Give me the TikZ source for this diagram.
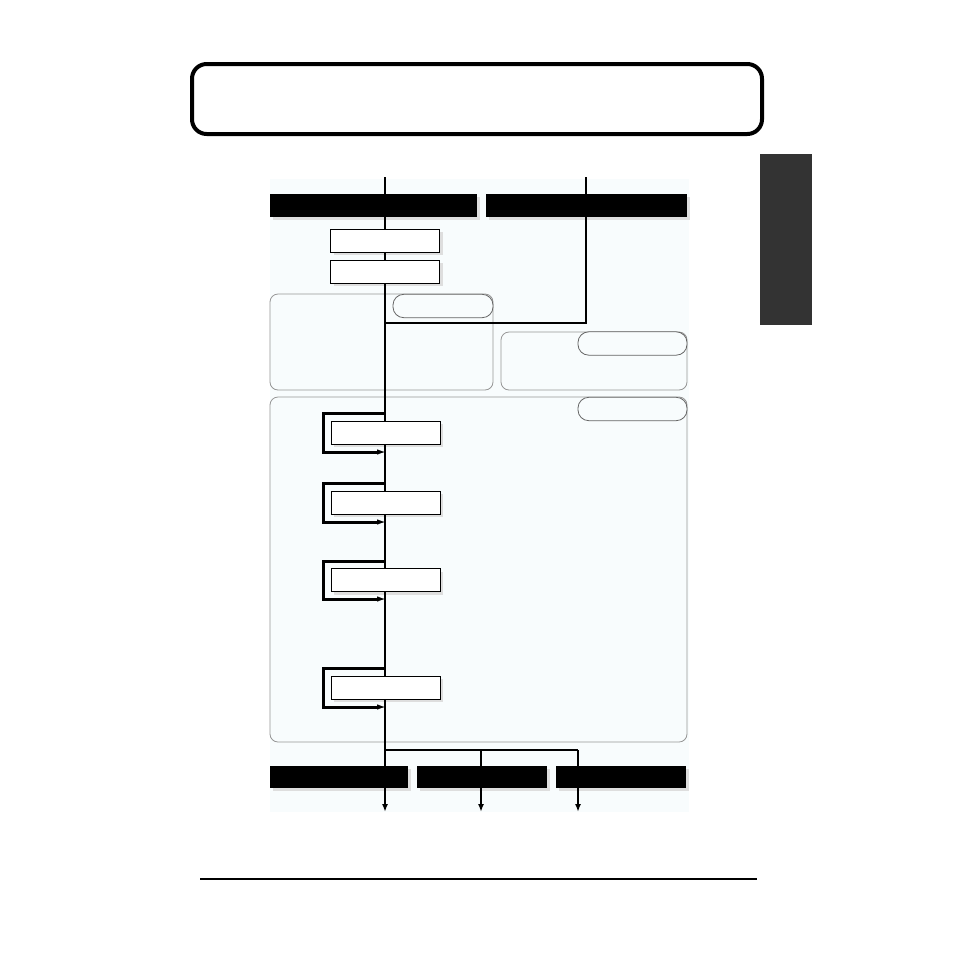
\documentclass[tikz,border=0pt]{standalone}
\usetikzlibrary{arrows.meta,shadows}
\definecolor{bgc}{RGB}{248,252,253}
\definecolor{shd}{RGB}{222,222,222}
\definecolor{grpc}{RGB}{150,150,150}
\definecolor{pillc}{RGB}{100,100,100}
\definecolor{tabc}{RGB}{51,51,51}
\begin{document}
\begin{tikzpicture}[x=0.75pt,y=-0.75pt,
  blackbox/.style={fill=black,draw=none,inner sep=0pt,minimum height=17.25pt,
    drop shadow={shadow xshift=2.25pt,shadow yshift=-2.25pt,fill=shd,opacity=1}},
  whitebox/.style={fill=white,draw=black,line width=0.75pt,inner sep=0pt,
    minimum width=81.75pt,minimum height=17.25pt,
    drop shadow={shadow xshift=2.25pt,shadow yshift=-2.25pt,fill=shd,opacity=1}},
  grpbox/.style={draw=grpc,line width=0.6pt,rounded corners=6pt,inner sep=0pt,fill=bgc},
  pill/.style={draw=pillc,line width=0.6pt,rounded corners=8pt,inner sep=0pt,fill=bgc,
    minimum height=17.5pt},
  mainline/.style={line width=1.5pt},
  loopline/.style={line width=2.25pt,line join=miter},
  arr/.style={-{Latex[length=6pt,width=4.5pt]}},
  looparr/.style={-{Latex[length=6pt,width=4pt,line width=0pt]}}
]
\useasboundingbox (0,0) rectangle (954,954);
\fill[white] (0,0) rectangle (954,954);
% light background
\fill[bgc] (270,179) rectangle (689,812);
% title box and tab
\node[draw=black,line width=3pt,rounded corners=11pt,minimum width=427.5pt,minimum height=52.5pt,inner sep=0pt] (title) at (477,99) {};
\node[fill=tabc,minimum width=39pt,minimum height=128.25pt,inner sep=0pt] (tab) at (786,239.5) {};
\draw[line width=1.5pt] (200,879) -- (757,879);
% group boxes
\node[grpbox,minimum width=167.25pt,minimum height=72pt] (g1) at (381.5,342) {};
\node[grpbox,minimum width=139.5pt,minimum height=43.5pt] (g2) at (594,361) {};
\node[grpbox,minimum width=312.75pt,minimum height=258.75pt] (g3) at (478.5,569.5) {};
\node[pill,minimum width=75pt] (p1) at (443,306) {};
\node[pill,minimum width=81.75pt] (p2) at (632.5,343.5) {};
\node[pill,minimum width=81.75pt] (p3) at (632.5,409) {};
% top black boxes
\node[blackbox,minimum width=155.25pt] (A) at (373.5,205.5) {};
\node[blackbox,minimum width=150.75pt] (B) at (586.5,205.5) {};
% white boxes
\node[whitebox] (b1) at (385,240.5) {};
\node[whitebox] (b2) at (385,271.5) {};
\node[whitebox] (L1) at (385.5,432.5) {};
\node[whitebox] (L2) at (385.5,502.5) {};
\node[whitebox] (L3) at (385.5,580) {};
\node[whitebox] (L4) at (385.5,687.5) {};
% bottom black boxes
\node[blackbox,minimum width=103.5pt,minimum height=16.5pt] (C1) at (339,777) {};
\node[blackbox,minimum width=97.5pt,minimum height=16.5pt] (C2) at (482,777) {};
\node[blackbox,minimum width=97.5pt,minimum height=16.5pt] (C3) at (621,777) {};
% coordinates
\coordinate (tA) at (385,177);
\coordinate (tB) at (586,177);
\coordinate (j) at (385,323);
\coordinate (s0) at (385,750);
\coordinate (s1) at (481,750);
\coordinate (s2) at (578,750);
\coordinate (e0) at (385,812);
\coordinate (e1) at (481,812);
\coordinate (e2) at (578,812);
\coordinate (lx) at (323,0);
\coordinate (lt1) at (385,413); \coordinate (lb1) at (385,452);
\coordinate (lt2) at (385,483); \coordinate (lb2) at (385,522);
\coordinate (lt3) at (385,561); \coordinate (lb3) at (385,599);
\coordinate (lt4) at (385,668); \coordinate (lb4) at (385,707);
% main line
\draw[mainline] (tA) -- (tA |- A.north);
\draw[mainline] (tB) -- (tB |- B.north);
\draw[mainline] (tA |- A.south) -- (b1.north);
\draw[mainline] (b1.south) -- (b2.north);
\draw[mainline] (b2.south) -- (b2.south |- L1.north);
\draw[mainline] (tB |- B.south) |- (j);
\draw[mainline] (lb1 |- L1.south) -- (lb1 |- L2.north);
\draw[mainline] (lb1 |- L2.south) -- (lb1 |- L3.north);
\draw[mainline] (lb1 |- L3.south) -- (lb1 |- L4.north);
\draw[mainline] (lb1 |- L4.south) -- (s0);
\draw[mainline] (s0) -- (s2);
\draw[mainline] (s0) -- (s0 |- C1.north);
\draw[mainline] (s1) -- (s1 |- C2.north);
\draw[mainline] (s2) -- (s2 |- C3.north);
\draw[mainline,arr] (e0 |- C1.south) -- (e0);
\draw[mainline,arr] (e1 |- C2.south) -- (e1);
\draw[mainline,arr] (e2 |- C3.south) -- (e2);
% loops
\draw[loopline,looparr] (lt1) -- (lt1 -| lx) |- (lb1);
\draw[loopline,looparr] (lt2) -- (lt2 -| lx) |- (lb2);
\draw[loopline,looparr] (lt3) -- (lt3 -| lx) |- (lb3);
\draw[loopline,looparr] (lt4) -- (lt4 -| lx) |- (lb4);
\end{tikzpicture}
\end{document}
